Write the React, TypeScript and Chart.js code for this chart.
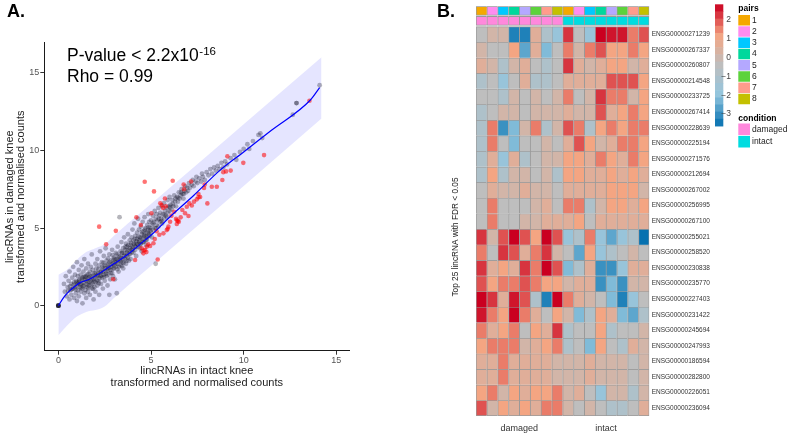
import React, { useEffect, useRef } from 'react';
import { Chart, registerables } from 'chart.js';

Chart.register(...registerables);

const FONT = "'Liberation Sans', Arial, Helvetica, sans-serif";

// ---------------- Panel A data ----------------
const panelALabel = 'A.';
const xTicksA = [0, 5, 10, 15];
const yTicksA = [0, 5, 10, 15];
const xTitleA = ['lincRNAs in intact knee', 'transformed and normalised counts'];
const yTitleA = ['lincRNAs in damaged knee', 'transformed and normalised counts'];
const pValueText = 'P-value < 2.2x10';
const pValueExp = '-16';
const rhoText = 'Rho = 0.99';

const fitLine: [number, number][] = [
  [0, 0], [0.3, 0.55], [0.6, 0.95], [0.9, 1.25], [1.2, 1.5], [1.5, 1.62], [1.9, 1.85],
  [2.5, 2.3], [3.0, 2.7], [3.7, 3.26], [4.4, 3.95], [5.1, 4.65], [6.0, 5.7], [7.3, 7.1],
  [8.7, 8.7], [10, 9.9], [11.5, 11.3], [13.6, 13.25], [14.1, 14.05],
];

const bandUpper: [number, number][] = [
  [0, 2.0], [0.5, 2.35], [1.0, 2.95], [1.5, 3.45], [2.0, 3.7], [2.5, 3.95], [3.0, 4.5],
  [6, 7.58], [10, 11.69], [14.2, 16.0],
];
const bandLower: [number, number][] = [
  [0, -1.9], [0.5, -1.25], [1.0, -0.7], [1.5, -0.4], [2.0, -0.28], [2.5, -0.05], [3.0, 0.5],
  [6, 3.59], [10, 7.71], [14.2, 12.05],
];

const greyPoints: [number, number][] = [
  [0, 0], [0, 0], [0, 0], [0, 0], [0, 0], [0, 0],
  [0.3, 1.4], [0.35, 0.9], [0.4, 1.9], [0.45, 0.6], [0.5, 1.2], [0.55, 1.6], [0.6, 0.4], [0.6, 2.2],
  [0.65, 1.0], [0.7, 1.4], [0.7, 0.7], [0.75, 1.8], [0.8, 1.1], [0.8, 2.5], [0.85, 0.5], [0.85, 1.5],
  [0.9, 1.2], [0.9, 2.0], [0.95, 0.8], [0.95, 1.6], [1.0, 1.3], [1.0, 2.8], [1.0, 0.3],
  [1.05, 1.0], [1.05, 1.9], [1.1, 1.5], [1.1, 2.3], [1.1, 0.6], [1.15, 1.2], [1.15, 1.7], [1.2, 2.0],
  [1.2, 0.9], [1.25, 1.4], [1.25, 2.6], [1.3, 1.1], [1.3, 1.8], [1.3, 0.15], [1.35, 1.5], [1.35, 2.2],
  [1.4, 0.8], [1.4, 1.3], [1.4, 3.0], [1.45, 1.9], [1.45, 1.0], [1.5, 1.6], [1.5, 2.4], [1.5, 0.5],
  [1.55, 1.2], [1.55, 2.0], [1.6, 1.5], [1.6, 0.9], [1.6, 2.7], [1.65, 1.8], [1.65, 1.3], [1.7, 2.2],
  [1.7, 0.7], [1.75, 1.6], [1.75, 2.5], [1.8, 1.1], [1.8, 1.9], [1.8, 3.3], [1.85, 1.4], [1.85, 2.3],
  [1.9, 0.4], [1.9, 1.7], [1.95, 2.1], [1.95, 1.2], [2.0, 1.5], [2.0, 2.7], [2.0, 0.9],
  [2.05, 1.9], [2.05, 2.4], [2.1, 1.3], [2.1, 3.0], [2.15, 2.1], [2.15, 1.6], [2.2, 2.6], [2.2, 0.7],
  [2.25, 1.9], [2.25, 3.5], [2.3, 2.2], [2.3, 1.4], [2.35, 2.8], [2.35, 1.8], [2.4, 2.4], [2.4, 1.1],
  [2.45, 2.0], [2.45, 3.2], [2.5, 2.6], [2.5, 1.6], [2.55, 2.2], [2.55, 3.7], [2.6, 1.9], [2.6, 2.9],
  [2.65, 2.4], [2.65, 1.3], [2.7, 2.7], [2.7, 2.0], [2.75, 3.3], [2.75, 0.7], [2.8, 2.3], [2.8, 1.7],
  [2.85, 2.9], [2.85, 2.5], [2.9, 2.1], [2.9, 3.6], [2.95, 2.7], [2.95, 1.9], [3.0, 3.1], [3.0, 2.4],
  [3.05, 2.8], [3.05, 1.7], [3.1, 3.4], [3.1, 2.5], [3.15, 3.0], [3.15, 0.8], [3.2, 2.7], [3.2, 3.8],
  [3.25, 3.2], [3.25, 2.2], [3.3, 5.7], [3.3, 2.9], [3.35, 3.5], [3.35, 2.6], [3.4, 3.1], [3.4, 4.1],
  [3.45, 2.8], [3.45, 3.4], [3.5, 3.7], [3.5, 2.4], [3.55, 3.2], [3.55, 4.4], [3.6, 3.0], [3.6, 3.6],
  [3.65, 2.7], [3.65, 4.0], [3.7, 3.4], [3.7, 3.8], [3.75, 3.1], [3.75, 4.6], [3.8, 3.6], [3.8, 2.9],
  [3.85, 4.2], [3.85, 3.3], [3.9, 3.9], [3.9, 3.0], [3.95, 4.4], [3.95, 3.6], [4.0, 3.8], [4.0, 4.9],
  [4.05, 3.4], [4.05, 4.2], [4.1, 3.9], [4.1, 5.3], [4.15, 3.6], [4.15, 4.5], [4.2, 4.0], [4.2, 3.2],
  [4.25, 4.7], [4.25, 4.3], [4.3, 3.8], [4.3, 5.6], [4.35, 4.1], [4.35, 4.9], [4.4, 3.7], [4.4, 4.4],
  [4.45, 5.1], [4.45, 4.0], [4.5, 4.6], [4.5, 3.5], [4.55, 4.3], [4.55, 5.4], [4.6, 4.8], [4.6, 4.1],
  [4.65, 4.5], [4.65, 5.7], [4.7, 4.2], [4.7, 5.0], [4.75, 4.7], [4.75, 3.9], [4.8, 5.2], [4.8, 4.4],
  [4.85, 4.9], [4.85, 5.9], [4.9, 4.6], [4.9, 5.4], [4.95, 5.0], [5.0, 4.7], [5.0, 5.5],
  [5.05, 5.2], [5.05, 4.4], [5.1, 5.8], [5.1, 4.9], [5.15, 5.4], [5.2, 5.0], [5.2, 6.1], [5.25, 5.6],
  [5.25, 2.7], [5.3, 5.2], [5.3, 5.9], [5.35, 5.5], [5.4, 5.1], [5.4, 6.3], [5.45, 5.8], [5.5, 5.4],
  [5.5, 6.0], [5.55, 5.6], [5.6, 6.4], [5.6, 5.3], [5.65, 5.9], [5.7, 5.6], [5.7, 6.6], [5.75, 6.1],
  [5.8, 5.8], [5.85, 6.3], [5.9, 6.0], [5.9, 6.8], [5.95, 6.4], [6.0, 6.1], [6.0, 7.0],
  [6.05, 6.5], [6.1, 6.2], [6.15, 6.8], [6.2, 6.4], [6.25, 7.1], [6.3, 6.7], [6.35, 6.4], [6.4, 7.0],
  [6.45, 6.7], [6.5, 7.3], [6.55, 6.9], [6.6, 7.1], [6.65, 7.5], [6.7, 7.2], [6.75, 6.9], [6.8, 7.4],
  [6.85, 7.7], [6.9, 7.3], [6.95, 7.6], [7.0, 7.4], [7.05, 7.9], [7.1, 7.6], [7.2, 7.8], [7.25, 8.1],
  [7.3, 7.7], [7.4, 8.0], [7.45, 8.3],
  [7.5, 7.9], [7.6, 8.2], [7.7, 8.0], [7.75, 8.5], [7.8, 8.3], [7.9, 8.1], [8.0, 8.6], [8.1, 8.4],
  [8.2, 8.8], [8.3, 8.5], [8.4, 8.9], [8.5, 8.7], [8.6, 9.0], [8.7, 8.8], [8.8, 9.2], [8.9, 8.9],
  [9.0, 9.3], [9.1, 9.1], [9.3, 9.5], [9.5, 9.7], [9.6, 9.4], [9.8, 9.9], [10.0, 10.1], [10.2, 10.4],
  [10.3, 10.1], [10.5, 10.6], [10.8, 11.0], [10.9, 11.1], [11.0, 10.8],
  [12.65, 12.3], [12.85, 13.05], [12.85, 13.05], [14.1, 14.2],
];

const greyCorePoints: [number, number][] = [
  [1.12, 1.62], [1.18, 1.38], [1.27, 1.72], [1.33, 1.25], [1.42, 1.66], [1.48, 1.85], [1.53, 1.38],
  [1.58, 1.74], [1.63, 2.05], [1.68, 1.52], [1.72, 1.88], [1.77, 1.34], [1.83, 1.66], [1.88, 2.0],
  [1.93, 1.55], [1.98, 1.82], [2.03, 2.12], [2.08, 1.62], [2.12, 1.95], [2.17, 2.35], [2.22, 1.75],
  [2.27, 2.15], [2.32, 1.95], [2.37, 2.5], [2.42, 2.2], [2.47, 1.85], [2.52, 2.4], [2.57, 2.05],
  [2.62, 2.6], [2.67, 2.25], [2.72, 2.45], [2.77, 2.8], [2.82, 2.1], [2.87, 2.65], [2.92, 2.35],
  [2.97, 2.95], [3.02, 2.6], [3.07, 3.0], [3.12, 2.75], [3.17, 3.3], [3.22, 2.95], [3.27, 2.5],
  [3.32, 3.15], [3.37, 2.85], [3.42, 3.4], [3.47, 3.05], [3.52, 2.75], [3.57, 3.35], [3.62, 3.8],
  [3.67, 3.2], [3.72, 3.55], [3.77, 3.9], [3.82, 3.35], [3.87, 3.7], [3.92, 4.05], [3.97, 3.45],
  [4.02, 3.65], [4.07, 4.0], [4.12, 4.3], [4.17, 3.8], [4.22, 4.15], [4.27, 3.95], [4.32, 4.45],
  [4.37, 4.2], [4.42, 3.95], [4.47, 4.35], [4.52, 4.75], [4.57, 4.1], [4.62, 4.55], [4.67, 4.9],
  [4.72, 4.45], [4.77, 4.25], [4.82, 4.7], [4.87, 5.05], [4.92, 4.5], [4.97, 4.85],
  [0.52, 0.95], [0.63, 1.25], [0.72, 1.05], [0.83, 1.35], [0.93, 1.05], [0.98, 1.5], [1.07, 1.42],
  [1.22, 1.15], [1.37, 1.85], [1.62, 1.15], [1.87, 1.1], [2.18, 1.45], [2.43, 2.75], [2.68, 3.05],
  [2.93, 3.25], [3.18, 2.35], [3.43, 2.55], [3.68, 2.9], [5.12, 5.3], [5.27, 5.0], [5.42, 5.6],
  [5.57, 5.45], [5.72, 5.85], [5.87, 5.7], [6.02, 6.35], [6.17, 6.55], [6.32, 6.9], [6.47, 6.95],
  [6.62, 7.3], [6.77, 7.2],
];

const redPoints: [number, number][] = [
  [2.2, 5.09], [3.1, 4.82], [2.58, 3.96], [2.96, 1.7], [4.14, 2.94], [5.36, 2.97], [4.59, 3.37],
  [4.68, 3.59], [4.77, 3.8], [4.95, 3.84], [4.6, 3.55], [4.75, 3.45], [4.85, 3.95], [4.5, 3.7],
  [5.13, 4.02], [5.45, 4.57], [5.67, 4.66], [5.85, 4.87], [5.94, 5.09], [5.9, 4.95], [6.03, 5.41],
  [6.39, 5.26], [6.6, 5.69], [6.45, 5.45], [6.35, 5.6], [6.84, 5.95], [7.02, 5.78], [6.69, 6.16],
  [6.93, 6.37], [7.07, 6.59], [7.32, 6.7], [7.47, 6.85], [7.56, 6.98], [7.56, 7.19], [8.04, 6.59],
  [5.57, 6.48], [5.65, 6.3], [5.5, 6.6], [5.75, 6.9], [5.8, 6.4], [4.21, 5.69], [4.45, 5.2],
  [5.02, 5.95], [4.66, 7.98], [5.16, 7.36], [6.17, 8.05], [6.76, 7.8], [6.78, 7.5], [7.16, 8.0],
  [7.86, 7.58], [7.9, 7.8], [8.55, 7.66], [8.28, 7.66], [8.85, 8.1], [8.9, 8.6], [9.05, 8.65],
  [9.3, 8.7], [9.12, 9.62], [9.98, 9.2], [11.1, 9.7], [13.55, 13.2], [6.4, 5.5], [6.5, 5.4],
  [5.2, 4.3], [5.3, 4.8], [6.1, 5.8], [6.25, 6.05], [7.2, 6.45], [7.65, 7.0],
];

// ---------------- Panel B data ----------------
const panelBLabel = 'B.';
const heatTitle = 'Top 25 lincRNA with FDR < 0.05';
const geneIds = [
  'ENSG00000271239', 'ENSG00000267337', 'ENSG00000260807', 'ENSG00000214548', 'ENSG00000233725',
  'ENSG00000267414', 'ENSG00000228639', 'ENSG00000225194', 'ENSG00000271576', 'ENSG00000212694',
  'ENSG00000267002', 'ENSG00000256995', 'ENSG00000267100', 'ENSG00000255021', 'ENSG00000258520',
  'ENSG00000230838', 'ENSG00000235770', 'ENSG00000227403', 'ENSG00000231422', 'ENSG00000245694',
  'ENSG00000247993', 'ENSG00000186594', 'ENSG00000282800', 'ENSG00000226051', 'ENSG00000236094',
];
const sampleCondition = [
  'damaged', 'damaged', 'damaged', 'damaged', 'damaged', 'damaged', 'damaged', 'damaged',
  'intact', 'intact', 'intact', 'intact', 'intact', 'intact', 'intact', 'intact',
];
const samplePair = [1, 2, 3, 4, 5, 6, 7, 8, 1, 2, 3, 4, 5, 6, 7, 8];
const pairNames = ['1', '2', '3', '4', '5', '6', '7', '8'];
const pairColors = ['#F5A800', '#FF8CF0', '#00C8FF', '#00D89C', '#B4A8FF', '#5CD23C', '#FF9C8C', '#C4C000'];
const conditionNames = ['damaged', 'intact'];
const conditionColors = ['#FF88DC', '#00DCE0'];
const conditionLabels = ['damaged', 'intact'];
const scaleTicks = [2, 1, 0, -1, -2, -3];
const colorStopValues = [-3.6, -2.0, -0.4, 1.2, 2.8];
const colorStopColors = ['#0571B0', '#92C5DE', '#BEBEBE', '#F4A582', '#CA0020'];

const heatValues: number[][] = [
  [-0.4, 0.2, 0.2, -3.3, -3.3, 0.6, -1.0, -1.8, 2.3, -0.4, -1.8, 2.8, 2.6, 2.6, 1.6, 2.0],
  [0.2, -0.4, -0.4, 1.2, -2.6, 0.6, -2.2, -0.4, 1.6, 0.2, 1.6, 2.0, 1.2, 1.2, 1.6, 1.2],
  [0.6, 0.2, -1.0, 0.2, 0.6, -0.4, -1.0, -0.4, 2.3, 0.6, 0.2, 0.6, 1.2, 1.2, 0.2, 0.6],
  [-1.0, -0.4, -1.8, -0.4, 0.6, -1.0, -1.0, -0.4, 0.6, 0.6, 0.6, 0.6, 2.0, 2.0, 2.0, 1.2],
  [-0.4, -0.4, -1.0, 0.2, -0.4, 0.2, -0.4, 0.2, 1.6, -0.4, 0.2, 2.3, 1.6, 1.6, 0.2, 1.2],
  [-1.0, -0.4, 0.2, 0.2, -0.4, 0.2, 0.2, 0.2, 0.6, 0.2, 0.2, 2.0, 0.6, 1.2, 1.6, 1.2],
  [-1.0, 1.6, -3.0, -2.2, 0.2, 1.6, -1.0, 0.2, 2.0, 1.6, -1.0, 1.2, 1.6, 1.2, 1.6, 1.6],
  [-1.0, 1.6, -0.4, -2.2, -0.4, -0.4, 0.2, -0.4, 0.6, 2.0, 1.2, 0.2, 0.6, 1.6, 1.6, 1.2],
  [-1.0, 0.6, -1.8, 0.6, -1.0, -0.4, 0.2, 0.2, 1.2, 1.2, 0.6, 1.6, 1.2, 0.6, 1.6, 1.2],
  [-1.0, 1.2, -1.0, 0.2, 0.2, -0.4, 0.2, -1.0, 1.2, 1.2, 0.6, 0.6, 1.2, 0.6, 1.2, 0.6],
  [-0.4, 0.6, 0.2, 0.2, 0.6, 0.2, 0.2, -0.4, 0.6, 0.6, 0.6, 0.6, 1.2, 1.2, 1.2, 0.2],
  [-0.4, 1.6, -0.4, -0.4, -0.4, 0.2, 0.6, -0.4, 1.6, 1.6, -1.0, 0.2, 1.2, 1.2, 0.6, 1.2],
  [-0.4, 1.6, -0.4, -0.4, 0.2, 0.2, 0.6, 0.6, 0.6, 1.2, -0.4, 0.6, 0.6, 0.6, 0.6, 0.6],
  [2.3, 0.2, 2.0, 2.8, 2.0, 1.2, 2.8, 2.0, -1.8, -1.0, 1.6, -1.8, -2.6, -1.8, -1.0, -3.6],
  [1.6, -0.4, 2.3, 2.0, 0.6, 1.6, 2.3, 0.2, -0.4, -2.6, 1.2, -1.8, -1.0, -0.4, 0.2, -0.4],
  [2.3, 0.6, 1.2, 0.6, 2.3, 1.6, 2.8, 2.0, -2.2, -1.0, 0.6, -3.0, -3.0, -1.8, 0.6, 0.6],
  [2.0, 1.2, 1.6, 1.6, 2.0, 1.6, 1.2, 1.2, 0.2, 0.6, 0.6, -3.0, -2.2, -3.0, 0.2, 0.2],
  [2.8, 2.3, 0.6, 2.6, 2.0, -1.0, -3.3, 2.8, 1.6, 0.6, 0.2, -0.4, -2.2, -3.3, -1.8, -0.4],
  [2.6, 1.6, 1.2, 2.8, 1.6, 0.6, -0.4, 1.2, 0.2, -2.2, -1.0, 1.2, 0.6, -2.2, -2.6, -1.0],
  [1.6, 0.6, 1.2, 1.6, -0.4, 1.2, 0.6, 2.3, -1.0, -0.4, -0.4, 1.2, -1.0, -0.4, -0.4, 0.2],
  [1.2, 1.6, 1.6, 1.6, 0.2, 0.6, 1.2, 1.6, -1.0, -0.4, -2.2, 1.2, -0.4, -1.0, 0.6, 0.2],
  [0.6, 0.6, 1.6, 0.6, 0.6, 0.6, 0.6, 0.2, 0.2, 0.2, 0.6, 0.2, 0.2, 0.2, -0.4, 0.2],
  [0.6, 0.6, 1.6, 0.6, 0.6, 0.6, 0.6, 0.2, 0.2, 0.2, 0.6, 0.2, 0.2, 0.2, -0.4, 0.2],
  [1.2, 1.6, 0.2, 1.2, 0.6, 1.2, 1.2, 1.6, 0.2, 0.6, -0.4, -1.8, 0.2, 0.2, -1.0, 0.2],
  [2.0, 0.2, 1.2, 0.6, 1.2, 0.6, 1.6, 1.6, 0.2, -0.4, 0.2, -0.4, -1.0, -1.0, -0.4, 0.6],
];

// ---------------- helpers ----------------
function hexToRgb(h: string) {
  return [parseInt(h.slice(1, 3), 16), parseInt(h.slice(3, 5), 16), parseInt(h.slice(5, 7), 16)];
}
function heatColor(v: number) {
  const vals = colorStopValues;
  if (v <= vals[0]) return colorStopColors[0];
  if (v >= vals[vals.length - 1]) return colorStopColors[vals.length - 1];
  for (let i = 0; i < vals.length - 1; i++) {
    if (v >= vals[i] && v <= vals[i + 1]) {
      const t = (v - vals[i]) / (vals[i + 1] - vals[i]);
      const a = hexToRgb(colorStopColors[i]);
      const b = hexToRgb(colorStopColors[i + 1]);
      const c = a.map((x, k) => Math.round(x + (b[k] - x) * t));
      return `rgb(${c[0]},${c[1]},${c[2]})`;
    }
  }
  return colorStopColors[0];
}
const toXY = (arr: [number, number][]) => arr.map(([x, y]) => ({ x, y }));

// ---------------- Panel A chart ----------------
const panelATextPlugin = {
  id: 'panelAText',
  afterDraw(chart: any) {
    const ctx = chart.ctx;
    ctx.save();
    ctx.fillStyle = '#000';
    ctx.textAlign = 'left';
    ctx.textBaseline = 'alphabetic';
    ctx.font = `bold 18px ${FONT}`;
    ctx.fillText(panelALabel, 7, 16.7);
    ctx.font = `17.5px ${FONT}`;
    ctx.fillText(pValueText, 67, 61);
    const w = ctx.measureText(pValueText).width;
    ctx.font = `11.5px ${FONT}`;
    ctx.fillText(pValueExp, 67 + w + 0.5, 54.5);
    ctx.font = `17.5px ${FONT}`;
    ctx.fillText(rhoText, 67, 81.7);
    ctx.restore();
  },
};

function scatterConfig(): any {
  const greyStyle = { backgroundColor: 'rgba(10,10,30,0.3)', borderWidth: 0, pointRadius: 2.4 };
  return {
    type: 'scatter',
    data: {
      datasets: [
        {
          type: 'line', data: toXY(bandUpper), fill: '+1', backgroundColor: 'rgba(40,40,255,0.12)',
          borderWidth: 0, pointRadius: 0, cubicInterpolationMode: 'monotone', order: 10,
        },
        {
          type: 'line', data: toXY(bandLower), fill: false, borderWidth: 0, pointRadius: 0,
          cubicInterpolationMode: 'monotone', order: 10,
        },
        { data: toXY(greyPoints), ...greyStyle, order: 4 },
        { data: toXY(greyCorePoints), ...greyStyle, order: 3 },
        { data: toXY(redPoints), backgroundColor: 'rgba(255,0,0,0.55)', borderWidth: 0, pointRadius: 2.3, order: 2 },
        {
          type: 'line', data: toXY(fitLine), borderColor: '#0000FF', borderWidth: 1.2, pointRadius: 0,
          fill: false, cubicInterpolationMode: 'monotone', order: 1,
        },
      ],
    },
    options: {
      animation: false,
      responsive: false,
      layout: { padding: { top: 42.7, right: 80.7, left: 0, bottom: 0 } },
      plugins: {
        legend: { display: false },
        tooltip: { enabled: false },
        filler: { drawTime: 'beforeDatasetsDraw' },
      },
      scales: {
        x: {
          type: 'linear', min: -0.76, max: 15.7,
          afterBuildTicks: (a: any) => { a.ticks = xTicksA.map((v) => ({ value: v })); },
          afterFit: (s: any) => { s.height = 83.3; },
          ticks: { font: { size: 9, family: FONT }, color: '#555', padding: 0, callback: (v: any) => String(v) },
          grid: { drawOnChartArea: false, drawTicks: true, tickLength: 4, color: '#333' },
          border: { color: '#1a1a1a', width: 1 },
          title: {
            display: true, text: xTitleA, color: '#222',
            font: { size: 11, family: FONT, lineHeight: 1.12 }, padding: { top: 0, bottom: 44.5 },
          },
        },
        y: {
          type: 'linear', min: -2.9, max: 16.94,
          afterBuildTicks: (a: any) => { a.ticks = yTicksA.map((v) => ({ value: v })); },
          afterFit: (s: any) => { s.width = 44.3; },
          ticks: { font: { size: 9, family: FONT }, color: '#555', padding: 1, callback: (v: any) => String(v) },
          grid: { drawOnChartArea: false, drawTicks: true, tickLength: 4, color: '#333' },
          border: { color: '#1a1a1a', width: 1 },
          title: {
            display: true, text: yTitleA, color: '#222',
            font: { size: 11, family: FONT, lineHeight: 1.0 }, padding: { top: 4.5, bottom: 0 },
          },
        },
      },
    },
    plugins: [panelATextPlugin],
  };
}

// ---------------- Panel B chart ----------------
const OX = 430; // canvas left offset on page
const colorbarTop = 57.7 - 2.84 * 18.8;
const colorbarBottom = 57.7 + 3.63 * 18.8;
const valueToBarY = (v: number) => 57.7 - v * 18.8;

const panelBPlugin = {
  id: 'panelBText',
  afterDraw(chart: any) {
    const ctx = chart.ctx;
    ctx.save();
    ctx.fillStyle = '#000';
    ctx.textAlign = 'left';
    ctx.textBaseline = 'alphabetic';
    ctx.font = `bold 18px ${FONT}`;
    ctx.fillText(panelBLabel, 437 - OX, 16.7);

    ctx.save();
    ctx.translate(456 - OX, 237);
    ctx.rotate(-Math.PI / 2);
    ctx.textAlign = 'center';
    ctx.textBaseline = 'middle';
    ctx.font = `8.3px ${FONT}`;
    ctx.fillStyle = '#222';
    ctx.fillText(heatTitle, 0, 0);
    ctx.restore();

    const cbx = 715 - OX;
    const cbw = 8.3;
    const nBands = 17;
    const vTop = (57.7 - colorbarTop) / 18.8;
    const vBot = (57.7 - colorbarBottom) / 18.8;
    for (let i = 0; i < nBands; i++) {
      const v0 = vTop - ((vTop - vBot) * i) / nBands;
      const v1 = vTop - ((vTop - vBot) * (i + 1)) / nBands;
      ctx.fillStyle = heatColor((v0 + v1) / 2);
      const y0 = valueToBarY(v0);
      const y1 = valueToBarY(v1);
      ctx.fillRect(cbx, y0, cbw, y1 - y0 + 0.5);
    }
    ctx.font = `8.5px ${FONT}`;
    ctx.fillStyle = '#444';
    ctx.textAlign = 'right';
    ctx.textBaseline = 'middle';
    scaleTicks.forEach((t) => {
      ctx.fillText(t < 0 ? '\u2212' + String(-t) : String(t), 731 - OX, valueToBarY(t));
    });

    const lx = 738.3 - OX;
    ctx.textAlign = 'left';
    ctx.fillStyle = '#000';
    ctx.font = `bold 8.5px ${FONT}`;
    ctx.fillText('pairs', lx, 8.3);
    ctx.font = `8.5px ${FONT}`;
    pairNames.forEach((name, i) => {
      const y = 15 + i * 11.25;
      ctx.fillStyle = pairColors[i];
      ctx.fillRect(lx, y, 11.7, 10.5);
      ctx.fillStyle = '#222';
      ctx.fillText(name, 752 - OX, y + 5.4);
    });

    ctx.fillStyle = '#000';
    ctx.font = `bold 8.5px ${FONT}`;
    ctx.fillText('condition', lx, 118.3);
    ctx.font = `8.5px ${FONT}`;
    conditionNames.forEach((name, i) => {
      const y = 123.5 + i * 12.4;
      ctx.fillStyle = conditionColors[i];
      ctx.fillRect(lx, y, 11.7, 11.6);
      ctx.fillStyle = '#222';
      ctx.fillText(name, 752 - OX, y + 6);
    });
    ctx.restore();
  },
};

function heatConfig(): any {
  const cellBorder = '#9A9A9A';
  const lastCol = samplePair.length - 1;
  const borderFor = (isBottom: boolean) => (c: any) => ({
    top: 1, left: 1, right: c.dataIndex === lastCol ? 1 : 0, bottom: isBottom ? 1 : 0,
  });
  const cellStyle = {
    borderColor: cellBorder, borderSkipped: false,
    barPercentage: 1, categoryPercentage: 1, grouped: false,
  };
  const rowSets = heatValues.map((row, i) => ({
    data: row.map(() => [24 - i, 25 - i]),
    backgroundColor: row.map(heatColor),
    borderWidth: borderFor(i === heatValues.length - 1),
    ...cellStyle,
  }));
  const condSet = {
    data: sampleCondition.map(() => [25.08, 25.66]),
    backgroundColor: sampleCondition.map((c) => conditionColors[conditionNames.indexOf(c)]),
    borderWidth: borderFor(true),
    ...cellStyle,
  };
  const pairSet = {
    data: samplePair.map(() => [25.72, 26.3]),
    backgroundColor: samplePair.map((p) => pairColors[p - 1]),
    borderWidth: borderFor(true),
    ...cellStyle,
  };
  return {
    type: 'bar',
    data: {
      labels: sampleCondition.map((c, i) => `${c}_${samplePair[i]}`),
      datasets: [...rowSets, condSet, pairSet],
    },
    options: {
      animation: false,
      responsive: false,
      layout: { padding: { top: 5, left: 0, right: 0, bottom: 0 } },
      plugins: { legend: { display: false }, tooltip: { enabled: false } },
      scales: {
        x: { type: 'category', display: false, offset: true },
        xl: {
          type: 'linear', position: 'bottom', min: 0, max: 16, offset: false,
          afterBuildTicks: (a: any) => { a.ticks = [{ value: 4 }, { value: 12 }]; },
          afterFit: (s: any) => { s.height = 18; },
          ticks: {
            autoSkip: false, padding: 7, color: '#333', font: { size: 9, family: FONT },
            callback: (v: any) => (v === 4 ? conditionLabels[0] : conditionLabels[1]),
          },
          grid: { display: false, drawTicks: false, offset: false },
          border: { display: false },
        },
        y: {
          type: 'linear', position: 'left', min: 0, max: 26.3,
          afterFit: (s: any) => { s.width = 46; },
          ticks: { display: false },
          grid: { display: false, drawTicks: false },
          border: { display: false },
        },
        y2: {
          type: 'linear', position: 'right', min: 0, max: 26.3,
          afterBuildTicks: (a: any) => { a.ticks = geneIds.map((_, i) => ({ value: 24.5 - i })); },
          afterFit: (s: any) => { s.width = 137.7; },
          ticks: {
            autoSkip: false, padding: 2.4, color: '#333', font: { size: 6.5, family: FONT },
            callback: (v: any) => geneIds[Math.round(24.5 - v)],
          },
          grid: { display: false, drawTicks: false },
          border: { display: false },
        },
      },
    },
    plugins: [panelBPlugin],
  };
}

export default function App() {
  const aRef = useRef<HTMLCanvasElement>(null);
  const bRef = useRef<HTMLCanvasElement>(null);
  useEffect(() => {
    Chart.defaults.font.family = FONT;
    const a = new Chart(aRef.current as HTMLCanvasElement, scatterConfig());
    const b = new Chart(bRef.current as HTMLCanvasElement, heatConfig());
    return () => {
      a.destroy();
      b.destroy();
    };
  }, []);
  return (
    <div style={{ position: 'fixed', left: 0, top: 0, width: 787, height: 434, background: '#fff' }}>
      <canvas ref={aRef} width={430} height={434}
        style={{ position: 'absolute', left: 0, top: 0, width: 430, height: 434 }} />
      <canvas ref={bRef} width={357} height={434}
        style={{ position: 'absolute', left: 430, top: 0, width: 357, height: 434 }} />
    </div>
  );
}
